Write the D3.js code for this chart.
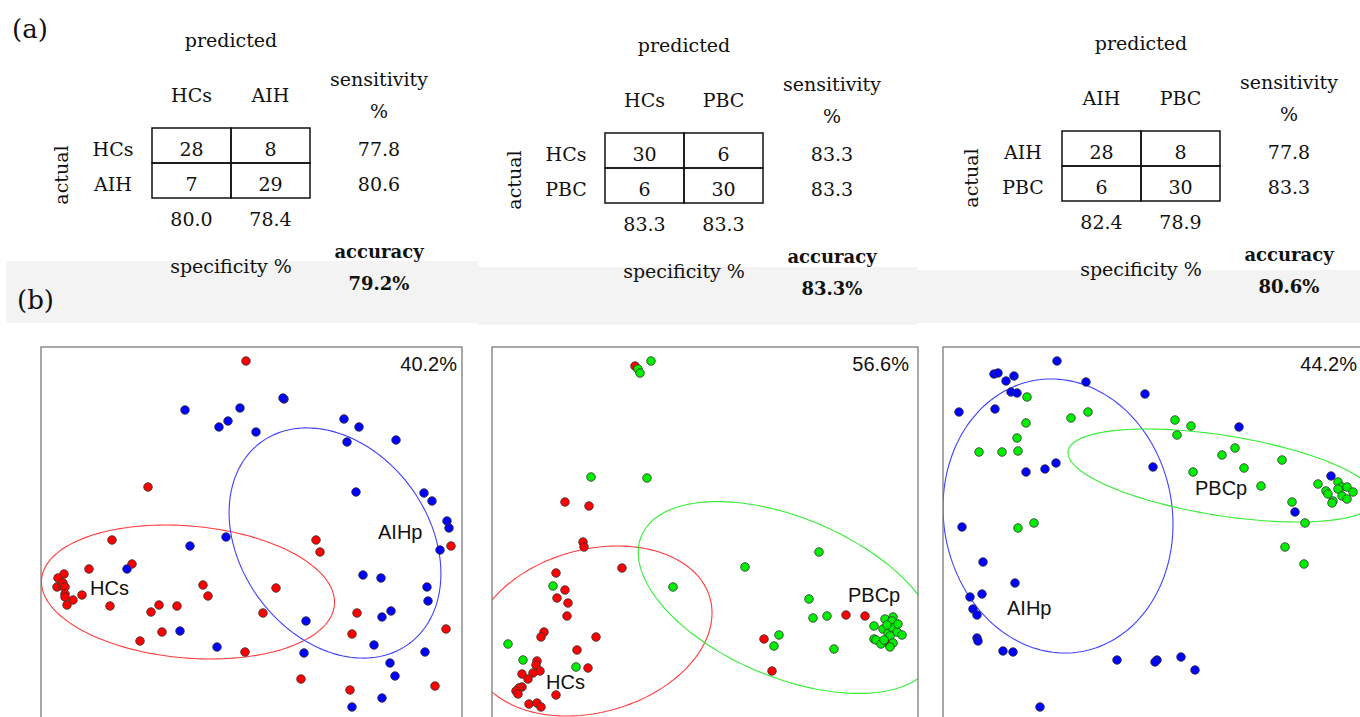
<!DOCTYPE html>
<html>
<head>
<meta charset="utf-8">
<script src="https://cdn.jsdelivr.net/npm/d3@7"></script>
<style>
  body { margin: 0; background: #fff; }
  svg { display: block; }
</style>
</head>
<body>
<svg id="fig" width="1360" height="717"></svg>
<script>
// ---- (a) confusion matrices ----
const panelClasses = [["HCs", "AIH"], ["HCs", "PBC"], ["AIH", "PBC"]];
const confusionCounts = [
  [[28, 8], [7, 29]],
  [[30, 6], [6, 30]],
  [[28, 8], [6, 30]]
];
const sensitivityPct = [["77.8", "80.6"], ["83.3", "83.3"], ["77.8", "83.3"]];
const specificityPct = [["80.0", "78.4"], ["83.3", "83.3"], ["82.4", "78.9"]];
const accuracyPct = ["79.2%", "83.3%", "80.6%"];

// ---- (b) score plots ----
const varianceExplained = ["40.2%", "56.6%", "44.2%"];
const groupNames = [["HCs", "AIHp"], ["HCs", "PBCp"], ["AIHp", "PBCp"]];

// panel 1: HCs vs AIH
const scoresHCs1 = [
  [20.5, 35.9], [10.7, 23.3], [7.1, 18.0], [9.1, 15.6], [4.8, 15.1], [2.3, 14.6], [1.7, 14.2],
  [1.6, 13.3], [2.1, 13.4], [2.2, 13.7], [2.4, 13.3], [2.4, 12.6], [2.4, 12.3], [2.6, 11.5],
  [3.2, 12.0], [4.1, 12.5], [6.9, 11.4], [16.2, 13.5], [16.7, 12.4], [11.8, 11.5], [11.0, 10.8],
  [13.6, 11.4], [12.1, 8.8], [9.9, 7.9], [20.4, 6.8], [22.2, 10.7], [27.5, 18.0], [27.9, 16.8],
  [23.5, 13.2], [41.0, 17.4], [31.6, 10.7], [31.1, 8.6], [40.5, 9.1], [26.0, 4.1], [30.9, 3.0],
  [39.4, 3.4]
];
const scoresAIH1 = [
  [14.4, 31.0], [19.9, 31.2], [18.7, 29.9], [17.8, 29.3], [21.5, 28.8], [18.5, 18.3], [14.9, 17.4],
  [8.6, 15.1], [13.9, 8.9], [17.6, 7.3], [24.3, 32.1], [24.2, 32.2], [30.3, 30.1], [31.8, 29.3],
  [30.6, 27.8], [35.5, 28.0], [31.5, 22.8], [38.3, 22.7], [39.1, 21.9], [40.6, 19.9], [40.8, 19.2],
  [39.9, 17.0], [32.2, 14.5], [34.0, 14.2], [38.6, 13.3], [38.7, 11.9], [26.5, 9.9], [35.0, 10.9],
  [34.1, 10.3], [26.3, 6.7], [33.3, 7.5], [38.4, 6.8], [34.9, 5.7], [35.4, 4.4], [34.1, 2.2],
  [31.1, 1.3]
];

// panel 2: HCs vs PBC
const scoresHCs2 = [
  [14.3, 35.4], [7.3, 21.8], [9.7, 21.4], [9.1, 17.8], [9.2, 17.3], [13.0, 15.2], [6.4, 14.7],
  [7.3, 13.0], [6.5, 12.2], [7.6, 11.7], [7.5, 10.4], [5.2, 8.8], [4.9, 8.3], [10.4, 8.3],
  [8.5, 7.0], [4.5, 5.9], [4.4, 5.5], [4.8, 4.9], [4.1, 4.7], [3.0, 4.6], [3.6, 4.1], [9.6, 5.2],
  [3.0, 3.3], [2.7, 3.2], [2.4, 2.9], [2.6, 2.6], [6.4, 2.5], [3.7, 1.6], [4.5, 1.7], [4.9, 1.3],
  [35.4, 10.5], [37.3, 10.4], [27.2, 8.1], [28.0, 4.9], [39.6, 7.7]
];
const scoresPBC2 = [
  [15.9, 35.9], [14.6, 35.1], [14.8, 34.7], [9.9, 24.3], [15.5, 24.2], [6.1, 13.4], [18.1, 13.3],
  [1.6, 7.6], [3.1, 6.0], [8.4, 5.3], [32.7, 16.8], [25.3, 15.3], [31.7, 12.1], [32.1, 10.2],
  [33.5, 10.4], [28.7, 8.5], [28.2, 7.4], [34.2, 7.1], [39.3, 10.1], [40.1, 10.3], [40.0, 9.9],
  [38.2, 9.4], [39.1, 9.1], [39.6, 8.7], [40.1, 9.2], [40.5, 8.8], [41.0, 8.5], [39.8, 8.4],
  [38.2, 8.1], [38.4, 8.0], [38.9, 7.6], [40.1, 7.7], [39.8, 7.3], [39.5, 9.5], [40.6, 9.6],
  [39.2, 8.0]
];

// panel 3: AIH vs PBC
const scoresAIH3 = [
  [11.4, 35.9], [5.1, 34.6], [5.5, 34.7], [7.1, 34.4], [6.3, 33.9], [14.3, 33.8], [6.8, 32.8],
  [7.4, 32.7], [20.2, 32.6], [1.6, 30.8], [5.2, 31.1], [11.3, 25.7], [10.2, 25.1], [8.3, 24.8],
  [1.9, 19.3], [4.0, 15.8], [7.2, 13.7], [3.9, 12.6], [2.7, 12.3], [3.0, 11.1], [3.4, 10.5],
  [3.4, 8.2], [3.5, 7.9], [6.0, 6.9], [7.0, 6.8], [17.4, 6.0], [9.7, 1.3], [29.6, 29.3],
  [21.0, 25.3], [38.8, 24.4], [35.2, 20.8], [21.4, 6.0], [21.2, 5.8], [23.8, 6.3], [25.2, 5.0]
];
const scoresPBC3 = [
  [8.4, 32.3], [14.5, 30.8], [12.8, 30.2], [8.3, 29.7], [7.4, 28.2], [3.6, 26.8], [5.9, 26.8],
  [7.5, 26.9], [9.1, 19.7], [7.5, 19.2], [23.2, 30.0], [24.8, 29.4], [23.4, 28.5], [29.2, 27.2],
  [27.9, 26.5], [30.1, 25.2], [25.0, 24.8], [33.9, 26.0], [31.8, 23.4], [37.5, 23.6], [38.3, 22.9],
  [39.5, 23.8], [39.9, 23.3], [40.4, 23.3], [39.5, 23.1], [41.0, 22.8], [38.5, 22.6], [39.9, 22.4],
  [40.4, 22.1], [39.0, 21.9], [38.9, 21.7], [34.9, 21.8], [36.2, 19.7], [34.2, 17.3], [36.1, 15.6]
];

// confidence ellipses: [cx, cy, semi-axis a, semi-axis b, angle deg]
const ellipses1 = [[14.7, 12.8, 14.7, 6.6, -5], [29.4, 17.7, 12.5, 9.4, -53.7]];
const ellipses2 = [[10.0, 8.9, 12.25, 8.14, 15.5], [29.6, 12.25, 15.9, 7.97, -22.8]];
const ellipses3 = [[11.5, 20.4, 13.76, 11.43, -80.5], [27.9, 24.45, 15.58, 4.01, -9]];

// label anchors (score units)
const groupLabelPos = [[[4.9, 12.5], [33.7, 18.1]], [[5.4, 3.1], [35.6, 11.8]], [[6.4, 10.5], [25.2, 22.5]]];
const varianceLabelPos = [[41.6, 34.9], [41.7, 34.9], [41.4, 34.9]];

// ---- layout ----
const svg = d3.select("#fig");
const serif = "'DejaVu Serif', serif";
const sans = "'Liberation Sans', Arial, sans-serif";

const tablesA = [{ tx: 152, ty: 128 }, { tx: 605, ty: 133 }, { tx: 1062, ty: 131 }];
const bands = [[6, 261, 472, 62], [478, 267, 439, 58], [917, 270, 443, 53]];
const panelsB = [
  { left: 41, width: 421, groups: [scoresHCs1, scoresAIH1], colors: ["#ff0000", "#0000ff"], ell: ellipses1, ellColors: ["#ff3b3b", "#4040ff"] },
  { left: 492, width: 426, groups: [scoresHCs2, scoresPBC2], colors: ["#ff0000", "#00ee00"], ell: ellipses2, ellColors: ["#ff3b3b", "#33ee33"] },
  { left: 943, width: 425, groups: [scoresPBC3, scoresAIH3], colors: ["#00ee00", "#0000ff"], ell: ellipses3, ellColors: ["#4040ff", "#33ee33"] }
];
const plotTop = 347, plotBottom = 720;

// gray band behind the accuracy row
svg.selectAll(".band")
  .data(bands)
  .join("rect")
  .attr("class", "band")
  .attr("x", d => d[0]).attr("y", d => d[1])
  .attr("width", d => d[2]).attr("height", d => d[3])
  .attr("fill", "#f3f3f3");

// panel letters
svg.append("text").attr("x", 12).attr("y", 38).text("(a)")
  .attr("font-family", serif).attr("font-size", 26).attr("fill", "#111");
svg.append("text").attr("x", 17).attr("y", 309).text("(b)")
  .attr("font-family", serif).attr("font-size", 26).attr("fill", "#111");

// ---- (a) tables ----
tablesA.forEach((t, i) => {
  const g = svg.append("g").attr("font-family", serif).attr("font-size", 19).attr("fill", "#111");
  const col = d3.scaleBand().domain([0, 1]).range([t.tx, t.tx + 158]);
  const row = d3.scaleBand().domain([0, 1]).range([t.ty, t.ty + 70]);
  const cx = c => col(c) + col.bandwidth() / 2;
  const sensX = t.tx + 227;
  const txt = (x, y, s, opt = {}) => g.append("text")
    .attr("x", x).attr("y", y).attr("text-anchor", opt.anchor || "middle")
    .attr("font-weight", opt.bold ? "bold" : null)
    .attr("font-size", opt.size || null)
    .text(s);

  txt(t.tx + 79, t.ty - 81, "predicted");
  panelClasses[i].forEach((c, k) => {
    txt(cx(k), t.ty - 26, c);
    txt(t.tx - 39, t.ty + 28 + k * 35, c);
    txt(sensX, t.ty + 28 + k * 35, sensitivityPct[i][k]);
    txt(cx(k), t.ty + 98, specificityPct[i][k]);
  });
  txt(sensX, t.ty - 42, "sensitivity");
  txt(sensX, t.ty - 10, "%");
  txt(t.tx + 79, t.ty + 145, "specificity %");
  txt(sensX, t.ty + 130, "accuracy", { bold: true, size: 18 });
  txt(sensX, t.ty + 162, accuracyPct[i], { bold: true, size: 18 });

  g.append("text")
    .attr("transform", `translate(${t.tx - 84},${t.ty + 47}) rotate(-90)`)
    .attr("text-anchor", "middle")
    .text("actual");

  // matrix cells
  confusionCounts[i].forEach((r, ri) => r.forEach((v, ci) => {
    g.append("rect")
      .attr("x", col(ci)).attr("y", row(ri))
      .attr("width", col.bandwidth()).attr("height", row.bandwidth())
      .attr("fill", "none").attr("stroke", "#111").attr("stroke-width", 1.5);
    txt(cx(ci), t.ty + 28 + ri * 35, v);
  }));
});

// ---- (b) score plots ----
panelsB.forEach((p, i) => {
  const x = d3.scaleLinear().domain([0, p.width / 10]).range([p.left, p.left + p.width]);
  const y = d3.scaleLinear().domain([0, (plotBottom - plotTop) / 10]).range([plotBottom, plotTop]);

  const clipId = "clip" + i;
  svg.append("clipPath").attr("id", clipId)
    .append("rect").attr("x", p.left).attr("y", plotTop)
    .attr("width", p.width).attr("height", 400);

  const g = svg.append("g");
  const inner = g.append("g").attr("clip-path", `url(#${clipId})`);

  const line = d3.line().x(d => x(d[0])).y(d => y(d[1]));
  const ellipsePts = ([ecx, ecy, a, b, ang]) => {
    const r = ang * Math.PI / 180;
    return d3.range(0, 361, 2).map(t => {
      const u = t * Math.PI / 180;
      return [ecx + a * Math.cos(r) * Math.cos(u) - b * Math.sin(r) * Math.sin(u),
              ecy + a * Math.sin(r) * Math.cos(u) + b * Math.cos(r) * Math.sin(u)];
    });
  };

  inner.selectAll(".ell")
    .data(p.ell)
    .join("path")
    .attr("class", "ell")
    .attr("d", d => line(ellipsePts(d)))
    .attr("fill", "none")
    .attr("stroke", (d, k) => p.ellColors[k])
    .attr("stroke-width", 1.1);

  p.groups.forEach((pts, k) => {
    inner.append("g").selectAll("circle")
      .data(pts)
      .join("circle")
      .attr("cx", d => x(d[0]))
      .attr("cy", d => y(d[1]))
      .attr("r", 4.3)
      .attr("fill", p.colors[k])
      .attr("stroke", "#333")
      .attr("stroke-width", 0.8);
  });

  // frame
  g.append("rect")
    .attr("x", p.left).attr("y", plotTop)
    .attr("width", p.width).attr("height", 400)
    .attr("fill", "none").attr("stroke", "#7a7a7a").attr("stroke-width", 1.3);

  groupNames[i].forEach((name, k) => {
    g.append("text")
      .attr("x", x(groupLabelPos[i][k][0]))
      .attr("y", y(groupLabelPos[i][k][1]))
      .attr("font-family", sans).attr("font-size", 20).attr("fill", "#111")
      .text(name);
  });

  g.append("text")
    .attr("x", x(varianceLabelPos[i][0]))
    .attr("y", y(varianceLabelPos[i][1]))
    .attr("text-anchor", "end")
    .attr("font-family", sans).attr("font-size", 20).attr("fill", "#111")
    .text(varianceExplained[i]);
});
</script>
</body>
</html>
